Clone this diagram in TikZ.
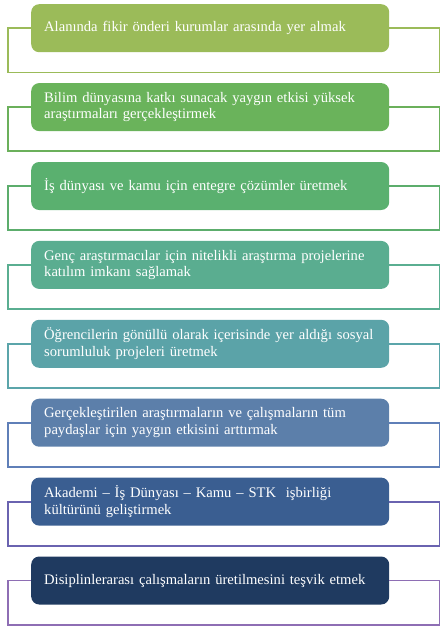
\documentclass[tikz,border=0pt]{standalone}
\usepackage{fontspec}
\setmainfont{Liberation Serif}
\usetikzlibrary{positioning, calc}

\definecolor{fillA}{HTML}{9BBB59}
\definecolor{fillB}{HTML}{6AB35B}
\definecolor{fillC}{HTML}{5AB06F}
\definecolor{fillD}{HTML}{5AAD90}
\definecolor{fillE}{HTML}{5BA3A8}
\definecolor{fillF}{HTML}{5C7FAA}
\definecolor{fillG}{HTML}{3A5E91}
\definecolor{fillH}{HTML}{1F3A60}
\definecolor{lineA}{HTML}{9BBB59}
\definecolor{lineB}{HTML}{6BB05B}
\definecolor{lineC}{HTML}{5CAD6C}
\definecolor{lineD}{HTML}{5AAE91}
\definecolor{lineE}{HTML}{5BA5AA}
\definecolor{lineF}{HTML}{5F7FB8}
\definecolor{lineG}{HTML}{6A63B0}
\definecolor{lineH}{HTML}{8E6EB4}

\tikzset{
    goal/.style={rounded corners=8pt, text=white, align=left, text width=332pt,
        inner xsep=13pt, inner ysep=4pt, minimum height=48pt,
        font=\fontsize{14.6}{16.5}\selectfont},
    frame/.style={line width=1.8pt}
}

\begin{document}
\begin{tikzpicture}
    \useasboundingbox (0,0) rectangle (443pt,-626pt);

    \node[goal, fill=fillA, anchor=north west] (G1) at (31pt,-4pt) {Alanında fikir önderi kurumlar arasında yer almak};
    \node[goal, fill=fillB, below=30.5pt of G1] (G2) {Bilim dünyasına katkı sunacak yaygın etkisi yüksek\\araştırmaları gerçekleştirmek};
    \node[goal, fill=fillC, below=30.5pt of G2] (G3) {İş dünyası ve kamu için entegre çözümler üretmek};
    \node[goal, fill=fillD, below=30.5pt of G3] (G4) {Genç araştırmacılar için nitelikli araştırma projelerine\\katılım imkanı sağlamak};
    \node[goal, fill=fillE, below=30.5pt of G4] (G5) {Öğrencilerin gönüllü olarak içerisinde yer aldığı sosyal\\sorumluluk projeleri üretmek};
    \node[goal, fill=fillF, below=30.5pt of G5] (G6) {Gerçekleştirilen araştırmaların ve çalışmaların tüm\\paydaşlar için yaygın etkisini arttırmak};
    \node[goal, fill=fillG, below=30.5pt of G6] (G7) {Akademi – İş Dünyası – Kamu – STK\ \ işbirliği\\kültürünü geliştirmek};
    \node[goal, fill=fillH, below=30.5pt of G7] (G8) {Disiplinlerarası çalışmaların üretilmesini teşvik etmek};

    % frames behind the boxes
    \draw[frame, lineA] (G1.west) -- ++(-23pt,0) |- ([yshift=-20pt]G1.south) -| ([xshift=50pt]G1.east) -- (G1.east);
    \draw[frame, lineB] (G2.west) -- ++(-23pt,0) |- ([yshift=-20pt]G2.south) -| ([xshift=50pt]G2.east) -- (G2.east);
    \draw[frame, lineC] (G3.west) -- ++(-23pt,0) |- ([yshift=-20pt]G3.south) -| ([xshift=50pt]G3.east) -- (G3.east);
    \draw[frame, lineD] (G4.west) -- ++(-23pt,0) |- ([yshift=-20pt]G4.south) -| ([xshift=50pt]G4.east) -- (G4.east);
    \draw[frame, lineE] (G5.west) -- ++(-23pt,0) |- ([yshift=-20pt]G5.south) -| ([xshift=50pt]G5.east) -- (G5.east);
    \draw[frame, lineF] (G6.west) -- ++(-23pt,0) |- ([yshift=-20pt]G6.south) -| ([xshift=50pt]G6.east) -- (G6.east);
    \draw[frame, lineG] (G7.west) -- ++(-23pt,0) |- ([yshift=-20pt]G7.south) -| ([xshift=50pt]G7.east) -- (G7.east);
    \draw[frame, lineH] (G8.west) -- ++(-23pt,0) |- ([yshift=-20pt]G8.south) -| ([xshift=50pt]G8.east) -- (G8.east);
\end{tikzpicture}
\end{document}
